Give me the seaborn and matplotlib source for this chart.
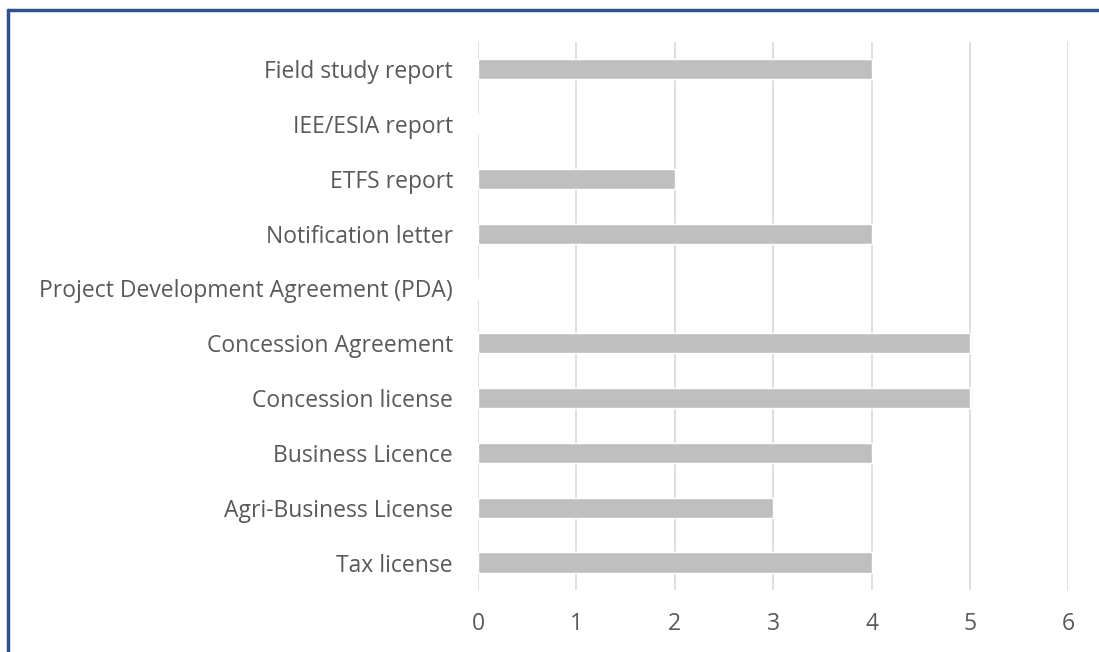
import matplotlib
matplotlib.use("Agg")
import matplotlib.pyplot as plt
from matplotlib.lines import Line2D
import seaborn as sns
import pandas as pd

# document types, top to bottom as shown
documents = [
    "Field study report",
    "IEE/ESIA report",
    "ETFS report",
    "Notification letter",
    "Project Development Agreement (PDA)",
    "Concession Agreement",
    "Concession license",
    "Business Licence",
    "Agri-Business License",
    "Tax license",
]
counts = [4, 0, 2, 4, 0, 5, 5, 4, 3, 4]
x_ticks = [0, 1, 2, 3, 4, 5, 6]

df = pd.DataFrame({"document": documents, "count": counts})

sns.set_theme(style="white")
plt.rcParams["font.family"] = ["Open Sans", "DejaVu Sans"]

fig = plt.figure(figsize=(10.99, 6.52), dpi=100)
ax = fig.add_axes([0.435, 0.095, 0.537, 0.841])

sns.barplot(data=df, x="count", y="document", order=documents,
            color="#BFBFBF", saturation=1, width=0.37, ax=ax)

ax.set_xlim(0, 6)
ax.set_xticks(x_ticks)
ax.set_xticklabels([str(t) for t in x_ticks])
ax.xaxis.grid(True, color="#D9D9D9", linewidth=1.2)
ax.set_axisbelow(True)
for s in ax.spines.values():
    s.set_visible(False)
ax.set_xlabel("")
ax.set_ylabel("")
ax.tick_params(axis="y", length=0, pad=18, labelsize=16.5, labelcolor="#595959")
ax.tick_params(axis="x", length=0, pad=16, labelsize=16.5, labelcolor="#595959")

# dark blue frame on top and left edges
fig.add_artist(Line2D([0.0073, 1.0], [0.985, 0.985], transform=fig.transFigure,
                      color="#2F5189", linewidth=2.5))
fig.add_artist(Line2D([0.0073, 0.0073], [0.0, 0.985], transform=fig.transFigure,
                      color="#2F5189", linewidth=2.5))

fig.savefig("out.png", dpi=100)
